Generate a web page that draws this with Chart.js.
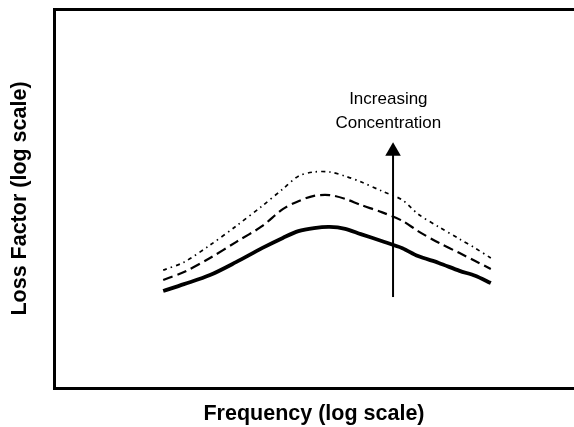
<!DOCTYPE html>
<html>
<head>
<meta charset="utf-8">
<script src="https://cdn.jsdelivr.net/npm/chart.js@4/dist/chart.umd.min.js"></script>
<style>
  html, body { margin: 0; padding: 0; background: #fff; overflow: hidden; }
  #chart { display: block; }
</style>
</head>
<body>
<!-- a bit wider than the window: the frame's right side runs off the picture -->
<canvas id="chart" width="583" height="427"></canvas>
<script>
// Relative units on both (log) axes
const frequency = [2.1, 2.5, 3.0, 3.5, 4.0, 4.4, 4.7, 5.0, 5.3, 5.6, 5.9, 6.3, 6.7, 7.0, 7.4, 7.8, 8.1, 8.4];
const lossLow   = [2.56, 2.74, 2.98, 3.32, 3.69, 3.96, 4.14, 4.22, 4.25, 4.20, 4.06, 3.88, 3.69, 3.48, 3.30, 3.09, 2.96, 2.77];
const lossMid   = [2.85, 3.06, 3.43, 3.85, 4.27, 4.72, 4.93, 5.07, 5.09, 4.99, 4.83, 4.64, 4.41, 4.14, 3.83, 3.56, 3.35, 3.14];
const lossHigh  = [3.11, 3.32, 3.77, 4.27, 4.80, 5.25, 5.59, 5.70, 5.70, 5.59, 5.44, 5.20, 4.96, 4.59, 4.25, 3.93, 3.69, 3.43];

// Arrow "Increasing Concentration"
const arrowX = 6.52;
const arrowY = [2.40, 6.25];
const noteLines = ['Increasing', 'Concentration'];
const noteX = 6.43;
const noteY = [7.49, 6.87];

const xTitle = 'Frequency (log scale)';
const yTitle = 'Loss Factor (log scale)';

const FONT = "'Liberation Sans', Arial, sans-serif";

const toPoints = (ys) => ys.map((y, i) => ({ x: frequency[i], y }));

// Text next to the arrow, placed through the chart scales
const notePlugin = {
    id: 'note',
    afterDatasetsDraw(chart) {
        const { ctx, scales } = chart;
        ctx.save();
        ctx.font = `17px ${FONT}`;
        ctx.fillStyle = '#000';
        ctx.textAlign = 'center';
        ctx.textBaseline = 'alphabetic';
        noteLines.forEach((t, i) => {
            ctx.fillText(t, scales.x.getPixelForValue(noteX), scales.y.getPixelForValue(noteY[i]));
        });
        ctx.restore();
    }
};

const lineBase = {
    borderColor: '#000',
    pointRadius: 0,
    fill: false,
    tension: 0.3
};

new Chart(document.getElementById('chart'), {
    type: 'line',
    data: {
        datasets: [
            {
                data: arrowY.map(y => ({ x: arrowX, y })),
                borderColor: '#000',
                borderWidth: 2,
                pointRadius: [0, 9],
                pointStyle: 'triangle',
                pointBackgroundColor: '#000',
                pointBorderWidth: 0,
                tension: 0
            },
            { ...lineBase, data: toPoints(lossLow), borderWidth: 3.8 },
            { ...lineBase, data: toPoints(lossMid), borderWidth: 2.2, borderDash: [10, 5] },
            { ...lineBase, data: toPoints(lossHigh), borderWidth: 1.7, borderDash: [4, 4, 1.5, 4] }
        ]
    },
    options: {
        responsive: false,
        animation: false,
        events: [],
        layout: { padding: { left: 0, right: 0, top: 9, bottom: 0 } },
        plugins: {
            legend: { display: false },
            tooltip: { enabled: false }
        },
        scales: {
            x: {
                type: 'linear',
                position: 'bottom',
                min: 0,
                max: 10,
                grid: { display: false, drawTicks: false },
                border: { display: true, color: '#000', width: 3 },
                ticks: { display: false },
                title: {
                    display: true,
                    text: xTitle,
                    color: '#000',
                    font: { family: FONT, size: 21.5, weight: 'bold' },
                    padding: { top: 13.2, bottom: 0 }
                }
            },
            xTop: {
                type: 'linear',
                position: 'top',
                min: 0,
                max: 10,
                grid: { display: false, drawTicks: false },
                border: { display: true, color: '#000', width: 3 },
                ticks: { display: false }
            },
            y: {
                type: 'linear',
                min: 0,
                max: 10,
                grid: { display: false, drawTicks: false },
                border: { display: true, color: '#000', width: 3 },
                ticks: { display: false },
                title: {
                    display: true,
                    text: yTitle,
                    color: '#000',
                    font: { family: FONT, size: 21.5, weight: 'bold' },
                    padding: { top: 7.1, bottom: 21.1 }
                }
            }
        }
    },
    plugins: [notePlugin]
});
</script>
</body>
</html>
